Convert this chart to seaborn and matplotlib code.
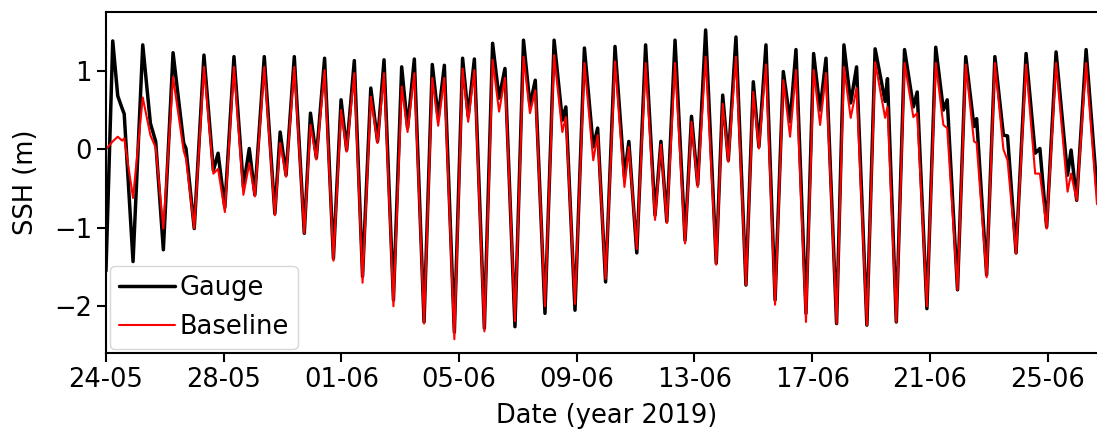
import numpy as np
import pandas as pd
import matplotlib
matplotlib.use("Agg")
import matplotlib.pyplot as plt
import matplotlib.dates as mdates
import seaborn as sns

# Tidal turning points (days after 2019-05-24 00:00) with sea surface height (m)
days = [
    0.00, 0.23, 0.40, 0.55, 0.62, 0.92, 1.25, 1.51, 1.69, 1.95,
    2.28, 2.64, 2.72, 3.00, 3.33, 3.65, 3.81, 4.04, 4.35, 4.67,
    4.87, 5.06, 5.38, 5.74, 5.92, 6.12, 6.40, 6.74, 6.95, 7.15,
    7.43, 7.73, 7.99, 8.18, 8.44, 8.72, 9.00, 9.23, 9.45, 9.77,
    10.05, 10.25, 10.48, 10.81, 11.09, 11.29, 11.50, 11.84, 12.12, 12.31,
    12.52, 12.86, 13.14, 13.36, 13.56, 13.90, 14.19, 14.41, 14.59, 14.92,
    15.23, 15.51, 15.63, 15.94, 16.26, 16.56, 16.71, 16.98, 17.30, 17.62,
    17.77, 18.04, 18.34, 18.66, 18.86, 19.06, 19.34, 19.68, 19.90, 20.11,
    20.38, 20.74, 20.96, 21.15, 21.41, 21.75, 22.00, 22.19, 22.43, 22.74,
    23.02, 23.25, 23.45, 23.79, 24.05, 24.27, 24.47, 24.83, 25.08, 25.31,
    25.51, 25.86, 26.14, 26.48, 26.56, 26.86, 27.14, 27.44, 27.57, 27.90,
    28.20, 28.46, 28.59, 28.94, 29.22, 29.50, 29.59, 29.93, 30.21, 30.50,
    30.64, 30.93, 31.27, 31.58, 31.74, 31.97, 32.29, 32.68, 32.80, 32.99,
    33.31, 33.68,
]

gauge = [
    -1.55, 1.38, 0.68, 0.52, 0.45, -1.43, 1.33, 0.33, 0.10, -1.28,
    1.23, 0.08, 0.01, -1.01, 1.20, -0.27, -0.05, -0.74, 1.18, -0.48,
    0.01, -0.58, 1.18, -0.82, 0.22, -0.33, 1.18, -1.07, 0.46, -0.11,
    1.16, -1.39, 0.63, -0.01, 1.13, -1.62, 0.78, 0.10, 1.14, -1.92,
    1.05, 0.27, 1.15, -2.20, 1.08, 0.40, 1.07, -2.33, 1.16, 0.42,
    1.15, -2.28, 1.35, 0.65, 1.03, -2.26, 1.39, 0.56, 0.88, -2.09,
    1.39, 0.37, 0.54, -2.05, 1.29, 0.03, 0.27, -1.69, 1.31, -0.35,
    0.10, -1.32, 1.33, -0.84, 0.10, -0.92, 1.39, -1.16, 0.42, -0.45,
    1.52, -1.45, 0.69, -0.14, 1.43, -1.73, 0.86, 0.03, 1.33, -1.92,
    0.99, 0.35, 1.27, -2.09, 1.22, 0.50, 1.16, -2.22, 1.33, 0.59,
    1.05, -2.24, 1.28, 0.61, 0.90, -2.20, 1.27, 0.54, 0.73, -2.03,
    1.30, 0.50, 0.63, -1.79, 1.18, 0.29, 0.39, -1.60, 1.18, 0.18,
    0.17, -1.32, 1.22, -0.05, 0.01, -0.99, 1.24, -0.33, -0.01, -0.65,
    1.27, -0.52,
]

baseline = [
    0.00, 0.10, 0.16, 0.11, 0.14, -0.62, 0.66, 0.18, 0.02, -1.01,
    0.92, -0.02, -0.12, -1.01, 1.05, -0.31, -0.25, -0.80, 1.05, -0.58,
    -0.18, -0.60, 1.05, -0.84, 0.08, -0.35, 1.05, -1.07, 0.31, -0.13,
    1.01, -1.42, 0.50, -0.03, 0.97, -1.70, 0.67, 0.08, 0.97, -2.00,
    0.80, 0.22, 0.97, -2.22, 0.91, 0.30, 0.91, -2.42, 1.03, 0.35,
    1.01, -2.32, 1.14, 0.48, 0.91, -2.19, 1.18, 0.46, 0.75, -2.00,
    1.20, 0.22, 0.41, -1.97, 1.10, -0.14, 0.18, -1.65, 1.12, -0.48,
    0.03, -1.27, 1.10, -0.90, 0.06, -0.94, 1.10, -1.20, 0.35, -0.48,
    1.18, -1.47, 0.58, -0.16, 1.18, -1.73, 0.73, 0.01, 1.08, -1.98,
    0.88, 0.16, 1.01, -2.20, 1.01, 0.31, 0.97, -2.22, 1.05, 0.40,
    0.78, -2.24, 1.11, 0.40, 0.54, -2.20, 1.10, 0.41, 0.46, -2.00,
    1.10, 0.31, 0.27, -1.79, 1.08, 0.10, 0.08, -1.63, 1.10, 0.00,
    -0.14, -1.33, 1.08, -0.31, -0.31, -1.01, 1.10, -0.54, -0.31, -0.65,
    1.10, -0.70,
]

start = pd.Timestamp("2019-05-24")
time = start + pd.to_timedelta(days, unit="D")
df = pd.DataFrame({"time": time, "Gauge": gauge, "Baseline": baseline})

sns.set_style("ticks")
plt.rcParams["font.family"] = ["DejaVu Sans"]
plt.rcParams["font.size"] = 18.5
for key in ["text.color", "axes.labelcolor", "xtick.color", "ytick.color",
            "axes.edgecolor"]:
    plt.rcParams[key] = "black"

fig = plt.figure(figsize=(10.97, 4.33), dpi=100)
ax = fig.add_axes([0.0966, 0.1848, 0.9125, 0.7875])

sns.lineplot(data=df, x="time", y="Gauge", color="black", linewidth=2.5,
             label="Gauge", ax=ax, sort=False)
sns.lineplot(data=df, x="time", y="Baseline", color="red", linewidth=1.5,
             label="Baseline", ax=ax, sort=False)

ax.set_xlim(start, start + pd.Timedelta(days=34.02))
ax.set_ylim(-2.595, 1.749)
ax.set_yticks([-2, -1, 0, 1])
ax.set_xticks(pd.date_range(start, periods=9, freq="4D"))
ax.xaxis.set_major_formatter(mdates.DateFormatter("%d-%m"))

ax.set_xlabel("Date (year 2019)", fontsize=18.5, labelpad=7.5)
ax.set_ylabel("SSH (m)", fontsize=18.5, labelpad=11)
ax.tick_params(axis="both", labelsize=18.5, length=6.5, width=1.5,
               direction="out", color="black", labelcolor="black")
for side in ["top", "bottom", "left", "right"]:
    ax.spines[side].set_visible(True)
    ax.spines[side].set_linewidth(1.5)
    ax.spines[side].set_color("black")

leg = ax.legend(loc="lower left", fontsize=18.5, borderaxespad=0.15,
                handlelength=2.2, handletextpad=0.15, borderpad=0.35,
                labelspacing=0.5, framealpha=0.8, fancybox=True)
leg.get_frame().set_edgecolor("0.8")
for text in leg.get_texts():
    text.set_color("black")

fig.savefig("out.png", dpi=100)
